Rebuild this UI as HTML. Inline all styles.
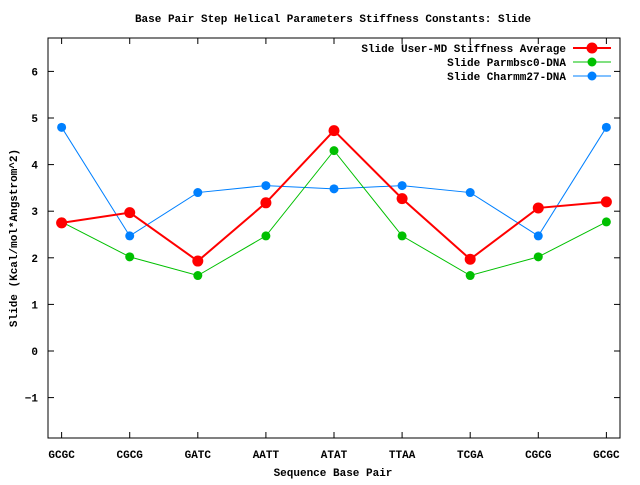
<!DOCTYPE html>
<html><head><meta charset="utf-8"><style>
body{margin:0;background:#fff}
svg text{font-family:"Liberation Mono",monospace;font-size:11px;font-weight:bold;fill:#000}
</style></head><body>
<svg id="chart" width="640" height="480" xmlns="http://www.w3.org/2000/svg">
<rect width="640" height="480" fill="#fff"/>
<text x="333" y="22" text-anchor="middle">Base Pair Step Helical Parameters Stiffness Constants: Slide</text>
<text x="333" y="476" text-anchor="middle">Sequence Base Pair</text>
<text transform="translate(17,238) rotate(-90)" text-anchor="middle">Slide (Kcal/mol*Angstrom^2)</text>
<g id="axes"></g>
<g id="series"></g>
<g id="legend"></g>
<rect x="48" y="38" width="572" height="400" fill="none" stroke="#000" stroke-width="1"/>
</svg>
<script>
const categories=["GCGC","CGCG","GATC","AATT","ATAT","TTAA","TCGA","CGCG","GCGC"];
const userMD=[2.75,2.97,1.93,3.18,4.73,3.27,1.97,3.07,3.2];
const parmbsc0=[2.77,2.02,1.62,2.47,4.3,2.47,1.62,2.02,2.77];
const charmm27=[4.8,2.47,3.4,3.55,3.48,3.55,3.4,2.47,4.8];
const yTicks=[-1,0,1,2,3,4,5,6];
const seriesNames=["Slide User-MD Stiffness Average","Slide Parmbsc0-DNA","Slide Charmm27-DNA"];
const NS="http://www.w3.org/2000/svg";
const L=48,R=620,T=38,B=438;
const xMin=0.8,xMax=9.2;
function xs(i){return L+(i+1-xMin)/(xMax-xMin)*(R-L);}
function ys(v){return 351-v*46.6;}
function mk(t,a,p){const e=document.createElementNS(NS,t);for(const k in a)e.setAttribute(k,a[k]);p.appendChild(e);return e;}
const ax=document.getElementById('axes');
yTicks.forEach(v=>{const y=ys(v);
 const t=mk('line',{x1:L,x2:L+6,y1:y,y2:y,stroke:'#000'},ax);
 
 
 const t2=mk('line',{x1:R-6,x2:R,y1:y,y2:y,stroke:'#000'},ax);
 
 
 const l=mk('text',{x:38,y:y+4,'text-anchor':'end'},ax);l.textContent=v<0?'\u2212'+(-v):v;
 
 
});
categories.forEach((c,i)=>{const x=xs(i);
 const t=mk('line',{x1:x,x2:x,y1:B,y2:B-6,stroke:'#000'},ax);
 
 
 const t2=mk('line',{x1:x,x2:x,y1:T,y2:T+6,stroke:'#000'},ax);
 
 
 const l=mk('text',{x:x,y:458,'text-anchor':'middle'},ax);l.textContent=c;
 
 
});
const sg=document.getElementById('series');
const defs=[[charmm27,'#0080ff',1,4.5,'charmm27'],[parmbsc0,'#00c000',1,4.5,'parmbsc0'],[userMD,'#ff0000',2,5.5,'user-md']];
defs.forEach(([d,col,w,r,n])=>{
 const pl=mk('polyline',{points:d.map((v,i)=>xs(i)+','+ys(v)).join(' '),fill:'none',stroke:col,'stroke-width':w},sg);
 
 
 d.forEach((v,i)=>{const c=mk('circle',{cx:xs(i),cy:ys(v),r:r,fill:col},sg);
  
  });
});
const lg=document.getElementById('legend');
const lcols=['#ff0000','#00c000','#0080ff'],lw=[2,1,1],lr=[5.5,4.5,4.5];
seriesNames.forEach((s,k)=>{const y=48+k*14;
 const t=mk('text',{x:566,y:y+4,'text-anchor':'end'},lg);t.textContent=s;
 
 
 const l=mk('line',{x1:573,x2:611,y1:y,y2:y,stroke:lcols[k],'stroke-width':lw[k]},lg);
 
 
 const c=mk('circle',{cx:592,cy:y,r:lr[k],fill:lcols[k]},lg);
 
 
});
</script>
</body></html>
